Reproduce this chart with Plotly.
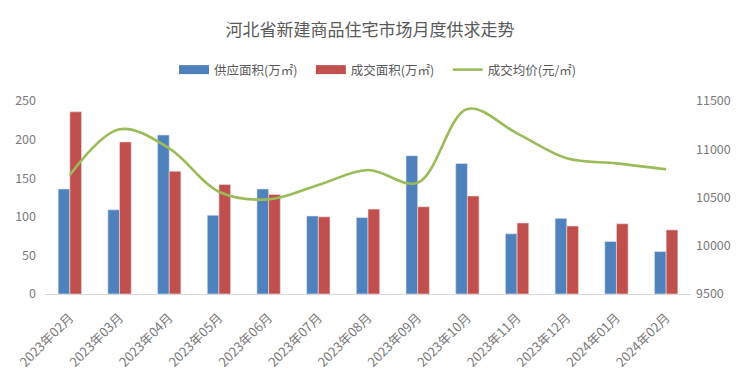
import plotly.graph_objects as go

months = ["2023年02月", "2023年03月", "2023年04月", "2023年05月", "2023年06月", "2023年07月",
          "2023年08月", "2023年09月", "2023年10月", "2023年11月", "2023年12月", "2024年01月", "2024年02月"]
supply = [136, 109, 206, 102, 136, 101, 99, 179, 169, 78, 98, 68, 55]
sales = [236, 197, 159, 142, 129, 100, 110, 113, 127, 92, 88, 91, 83]
price = [10733, 11207, 11010, 10560, 10481, 10630, 10785, 10653, 11417, 11165, 10906, 10854, 10792]

names = ["供应面积(万㎡)", "成交面积(万㎡)", "成交均价(元/㎡)"]
colors = ["#4F81BD", "#C0504D", "#9BBB59"]

FONT = "Noto Sans CJK SC"
GRAY = "#595959"
TICK = "#7a7a7a"
PAD = "\u00a0" * 3

# page has an 8px body margin, so the figure is sized to fill the rest of the window
W, H = 732, 371

fig = go.Figure()
fig.add_trace(go.Bar(x=months, y=supply, name=names[0], marker_color=colors[0], showlegend=False,
                     marker_line=dict(color="#dfe7f2", width=0.6)))
fig.add_trace(go.Bar(x=months, y=sales, name=names[1], marker_color=colors[1], showlegend=False,
                     marker_line=dict(color="#f2dede", width=0.6)))
fig.add_trace(go.Scatter(x=months, y=price, name=names[2], mode="lines", showlegend=False,
                         line=dict(color=colors[2], width=2.6, shape="spline", smoothing=1.0),
                         yaxis="y2"))
# legend entries (wide swatches like the original)
for nm, col, w in [(names[0] + PAD, colors[0], 9), (names[1] + PAD, colors[1], 9),
                   (names[2], colors[2], 2.6)]:
    fig.add_trace(go.Scatter(x=[months[0]], y=[None], name=nm, mode="lines",
                             line=dict(color=col, width=w), hoverinfo="skip"))

fig.update_layout(
    width=W, height=H,
    margin=dict(l=37, r=49, t=93, b=85, autoexpand=False),
    paper_bgcolor="white", plot_bgcolor="white",
    font=dict(family=FONT, color=GRAY, size=12),
    title=dict(text="河北省新建商品住宅市场月度供求走势", x=(370 - 8) / W, xanchor="center",
               y=1 - 22 / H, yanchor="middle", font=dict(size=17, color=GRAY, family=FONT)),
    barmode="group", bargap=0.53, bargroupgap=0,
    legend=dict(orientation="h", x=(378 - 45) / 646, xanchor="center", y=1 + 31 / 193,
                yanchor="middle", font=dict(size=12.5, color=GRAY), itemwidth=30, tracegroupgap=0),
    xaxis=dict(tickangle=-45, showline=True, linecolor="#d9d9d9", linewidth=1, automargin=False,
               ticks="", showgrid=False, tickfont=dict(size=13, color=TICK), ticklabelstandoff=10),
    yaxis=dict(range=[0, 250], dtick=50, showgrid=False, zeroline=False, showline=False,
               ticks="", tickfont=dict(size=12.5, color=TICK), ticklabelstandoff=8, automargin=False),
    yaxis2=dict(range=[9500, 11500], dtick=500, tickformat="d", overlaying="y", side="right",
                showgrid=False, zeroline=False, showline=False, ticks="", automargin=False,
                tickfont=dict(size=12.5, color=TICK), ticklabelstandoff=4),
)

fig.write_html("out.html")
